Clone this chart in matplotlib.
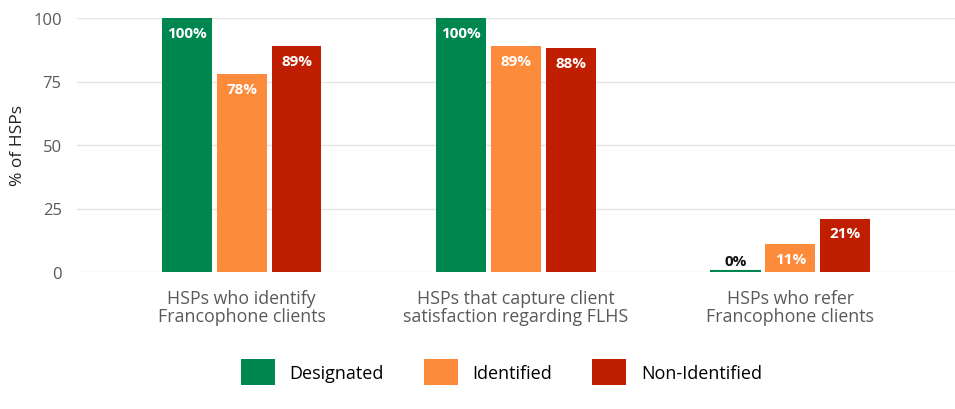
import matplotlib.pyplot as plt
from matplotlib.patches import Patch
import numpy as np

plt.rcParams['font.family'] = ['Open Sans', 'DejaVu Sans']

categories = ['HSPs who identify\nFrancophone clients',
              'HSPs that capture client\nsatisfaction regarding FLHS',
              'HSPs who refer\nFrancophone clients']
series = ['Designated', 'Identified', 'Non-Identified']
designated = [100, 100, 0]
identified = [78, 89, 11]
non_identified = [89, 88, 21]
colors = ['#00874F', '#FC8B3C', '#BF1F00']

fig = plt.figure(figsize=(9.55, 4.1), dpi=100)
ax = fig.add_axes([77 / 955, 1 - 273 / 410, 1 - 77 / 955, (273 - 19) / 410])

x = np.arange(len(categories))
width = 0.182
step = 0.2
for i, (vals, c) in enumerate(zip([designated, identified, non_identified], colors)):
    pos = x + (i - 1) * step
    ax.bar(pos, vals, width=width, color=c, zorder=3)
    for p, v in zip(pos, vals):
        if v > 5:
            ax.text(p, v - 3, f'{v}%', ha='center', va='top', color='white',
                    fontsize=11, fontweight='bold', zorder=4)
        else:
            ax.text(p, v + 1.5, f'{v}%', ha='center', va='bottom', color='#111111',
                    fontsize=11, fontweight='bold', zorder=4)
            ax.plot([p - width / 2, p + width / 2], [0.2, 0.2], color=c, lw=1.5, zorder=4)

ax.set_xlim(-0.6, 2.6)
ax.set_ylim(0, 100)
ax.set_yticks([0, 25, 50, 75, 100])
ax.yaxis.grid(True, color='#e6e6e6', lw=1, zorder=0)
for s in ax.spines.values():
    s.set_visible(False)
ax.tick_params(axis='y', length=0, labelsize=12, labelcolor='#595959', pad=11)
ax.set_xticks(x)
ax.set_xticklabels(categories, linespacing=1.05)
ax.tick_params(axis='x', length=0, labelsize=12.8, labelcolor='#595959', pad=12)
ax.set_ylabel('% of HSPs', fontsize=12.5, color='#222222', labelpad=5)

handles = [Patch(facecolor=c, label=s) for c, s in zip(colors, series)]
fig.legend(handles=handles, loc='center', bbox_to_anchor=(0.525, 1 - 373 / 410), ncol=3,
           frameon=False, fontsize=13, handlelength=1.9, handleheight=1.9,
           handletextpad=0.8, columnspacing=2.2)

fig.savefig('out.png', dpi=100)
